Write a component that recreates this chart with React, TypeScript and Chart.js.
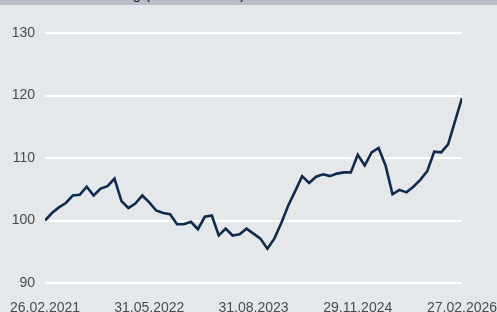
import React, { useEffect, useRef } from "react";
import { Chart, registerables } from "chart.js";

Chart.register(...registerables);

const TITLE = "Wertentwicklung (indexiert in %)";

// Monthly index values, 26.02.2021 .. 27.02.2026 (61 points)
const values: number[] = [
  100.0, 101.2, 102.1, 102.8, 104.0, 104.1, 105.4, 104.0, 105.1, 105.5,
  106.7, 103.1, 102.0, 102.7, 104.0, 102.9, 101.6, 101.2, 101.0, 99.4,
  99.4, 99.8, 98.6, 100.6, 100.8, 97.6, 98.7, 97.6, 97.8, 98.7,
  97.9, 97.1, 95.5, 97.1, 99.6, 102.4, 104.7, 107.1, 106.0, 107.0,
  107.4, 107.1, 107.5, 107.7, 107.7, 110.5, 108.8, 110.9, 111.6, 108.8,
  104.2, 104.9, 104.5, 105.4, 106.5, 107.9, 111.0, 110.9, 112.2, 115.9,
  119.6,
];

const xTickLabels: string[] = [
  "26.02.2021",
  "31.05.2022",
  "31.08.2023",
  "29.11.2024",
  "27.02.2026",
];
const xTickStep = 15;

const yTicks: number[] = [90, 100, 110, 120, 130];

export default function App() {
  const ref = useRef<HTMLCanvasElement | null>(null);

  useEffect(() => {
    document.body.style.margin = "0";
    const canvas = ref.current;
    if (!canvas) return;
    const chart = new Chart(canvas, {
      type: "line",
      data: {
        datasets: [
          {
            data: values.map((v, i) => ({ x: i, y: v })),
            borderColor: "#0e2b4c",
            borderWidth: 2.6,
            pointRadius: 0,
            tension: 0,
            fill: false,
          },
        ],
      },
      options: {
        animation: false,
        responsive: false,
        maintainAspectRatio: false,
        layout: { padding: { left: 0, top: 33, right: 35, bottom: 0 } },
        plugins: {
          legend: { display: false },
          tooltip: { enabled: false },
        },
        scales: {
          x: {
            type: "linear",
            min: 0,
            max: values.length - 1,
            grid: { display: false },
            border: { display: false },
            afterFit: (s: any) => {
              s.height = 29;
              s.paddingLeft = 0;
              s.paddingRight = 0;
            },
            afterBuildTicks: (s: any) => {
              s.ticks = xTickLabels.map((_, i) => ({ value: i * xTickStep }));
            },
            ticks: {
              padding: 9,
              maxRotation: 0,
              autoSkip: false,
              color: "#4a4a4a",
              font: { family: "'Liberation Sans', Arial, sans-serif", size: 14 },
              callback: (v: any) => xTickLabels[Math.round(Number(v) / xTickStep)] ?? "",
            },
          },
          y: {
            min: yTicks[0],
            max: yTicks[yTicks.length - 1],
            border: { display: false },
            grid: { color: "#ffffff", lineWidth: 2, drawTicks: false },
            afterFit: (s: any) => {
              s.width = 45;
              s.paddingTop = 0;
              s.paddingBottom = 0;
            },
            afterBuildTicks: (s: any) => {
              s.ticks = yTicks.map((v) => ({ value: v }));
            },
            ticks: {
              padding: 10,
              color: "#4a4a4a",
              font: { family: "'Liberation Sans', Arial, sans-serif", size: 14 },
            },
          },
        },
      },
    });
    return () => chart.destroy();
  }, []);

  return (
    <div
      style={{
        position: "relative",
        width: 497,
        height: 312,
        background: "#e5e8eb",
        overflow: "hidden",
      }}
    >
      <div
        style={{
          position: "absolute",
          left: 0,
          top: 0,
          width: 497,
          height: 5,
          background: "#b8bfc8",
          overflow: "hidden",
        }}
      >
        <span
          style={{
            position: "absolute",
            left: 31,
            top: -15,
            whiteSpace: "nowrap",
            fontFamily: "'Liberation Sans', Arial, sans-serif",
            fontSize: 15,
            lineHeight: "18px",
            color: "#1a1a1a",
          }}
        >
          {TITLE}
        </span>
      </div>
      <canvas
        ref={ref}
        width={497}
        height={312}
        style={{ position: "absolute", left: 0, top: 0, display: "block" }}
      />
    </div>
  );
}
